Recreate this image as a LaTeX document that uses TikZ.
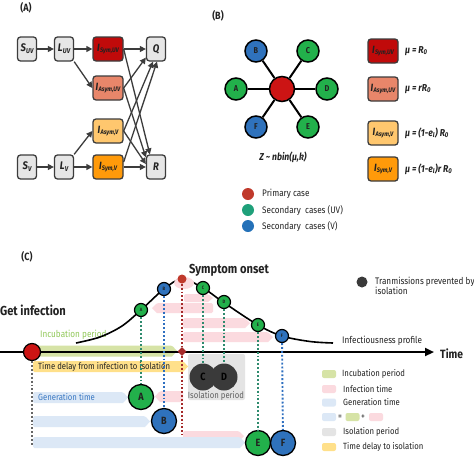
\documentclass[tikz,border=0pt]{standalone}
\usepackage{fontspec}
\setmainfont[FakeStretch=0.86]{Fira Sans}
\usetikzlibrary{arrows.meta,shapes.geometric}
\definecolor{boxgray}{HTML}{E6E6E6}
\definecolor{boxline}{HTML}{3C3C3C}
\definecolor{isuvc}{HTML}{C00A0A}
\definecolor{iauvc}{HTML}{E8866A}
\definecolor{iavc}{HTML}{FFC76E}
\definecolor{isvc}{HTML}{FF9A0A}
\definecolor{cgreen}{HTML}{22B04B}
\definecolor{cblue}{HTML}{2F72BC}
\definecolor{cred}{HTML}{CC1414}
\definecolor{lred}{HTML}{C0392B}
\definecolor{lteal}{HTML}{1FA07A}
\definecolor{lblue}{HTML}{2471B8}
\definecolor{incg}{HTML}{D6E3A6}
\definecolor{inctext}{HTML}{92C95A}
\definecolor{yel}{HTML}{FFE08A}
\definecolor{blu}{HTML}{DCE8F6}
\definecolor{pnk}{HTML}{FBDADF}
\definecolor{isog}{HTML}{E4E4E4}
\definecolor{gentext}{HTML}{3A78C2}
\definecolor{dgreen}{HTML}{2E8B6E}
\definecolor{dblue}{HTML}{2E6FC0}
\definecolor{dred}{HTML}{A52A2A}
\definecolor{darkc}{HTML}{3A3A3A}
\definecolor{txt}{HTML}{222222}
\newcommand\myfs[1]{\fontsize{#1}{#1}\selectfont}
\newcommand\arrbar[5]{\fill[#1,rounded corners=1.5pt] (#2,{#4-#5}) -- ({#3-5},{#4-#5}) [sharp corners] -- (#3,#4) -- ({#3-5},{#4+#5}) [rounded corners=1.5pt] -- (#2,{#4+#5}) -- cycle;}
\newcommand\arrbarl[5]{\fill[#1,rounded corners=1.5pt] (#3,{#4-#5}) -- ({#2+5},{#4-#5}) [sharp corners] -- (#2,#4) -- ({#2+5},{#4+#5}) [rounded corners=1.5pt] -- (#3,{#4+#5}) -- cycle;}
\newcommand\Isub[2]{\bfseries\itshape\myfs{10.5}#1\kern0.3pt\raisebox{-1.8pt}{\myfs{6.6}#2}}
\newcommand\Lsub[2]{\bfseries\itshape\myfs{11}#1\kern0.3pt\raisebox{-2pt}{\myfs{7}#2}}
\tikzset{
  gbox/.style={draw=boxline, fill=boxgray, rounded corners=3pt, line width=1.3pt,
    minimum width=19pt, minimum height=24pt, inner sep=0pt, text=txt},
  ibox/.style={gbox, minimum width=30pt},
  flow/.style={draw=boxline, line width=1.3pt, -{Triangle[length=6pt,width=6pt]}},
  bnode/.style={circle, draw=black, line width=1.5pt, minimum size=22pt, inner sep=0pt,
    font=\bfseries\myfs{8.5}, text=txt},
  ldot/.style={circle, minimum size=12pt, inner sep=0pt},
  ltext/.style={anchor=west, font=\myfs{9.5}, text=txt, inner sep=0pt},
  mutext/.style={anchor=west, font=\bfseries\itshape\myfs{10}, text=txt, inner sep=0pt},
  tcirc/.style={circle, draw=black, line width=1.2pt, minimum size=13pt, inner sep=0pt,
    font=\bfseries\myfs{4.8}, text=txt},
  bcirc/.style={circle, draw=black, line width=1.3pt, minimum size=25pt, inner sep=0pt,
    font=\bfseries\myfs{10.5}, text=txt},
  dcirc/.style={circle, fill=darkc, minimum size=27pt, inner sep=0pt,
    font=\bfseries\myfs{10.5}, text=black},
  dotl/.style={line width=1.9pt, dash pattern=on 1.9pt off 2pt},
  swatch/.style={rounded corners=2pt, minimum width=14pt, minimum height=8pt, inner sep=0pt},
}
\begin{document}
\begin{tikzpicture}[x=1pt,y=-1pt]
\useasboundingbox (0,0) rectangle (474,458);
\fill[white] (0,0) rectangle (474,458);

% ---------------- Panel A ----------------
\node[font=\bfseries\myfs{10.5}, text=txt] (labA) at (26,8) {(A)};
\node[gbox] (suv) at (27,49) {\Lsub{S}{UV}};
\node[gbox] (luv) at (64,49) {\Lsub{L}{UV}};
\node[ibox, fill=isuvc] (isuv) at (108,49) {\Isub{I}{Sym,UV}};
\node[gbox] (q) at (156,49) {\bfseries\itshape\myfs{11}Q};
\node[ibox, fill=iauvc] (iauv) at (108,88) {\Isub{I}{Asym,UV}};
\node[ibox, fill=iavc] (iav) at (108,131) {\Isub{I}{Asym,V}};
\node[ibox, fill=isvc] (isv) at (108,167) {\Isub{I}{Sym,V}};
\node[gbox] (sv) at (27,167) {\Lsub{S}{V}};
\node[gbox] (lv) at (64,167) {\Lsub{L}{V}};
\node[gbox] (r) at (156,167) {\bfseries\itshape\myfs{11}R};

\draw[flow] (suv) -- (luv);
\draw[flow] (luv) -- (isuv);
\draw[flow] (luv.south east) -- (iauv.west);
\draw[flow] (sv) -- (lv);
\draw[flow] (lv) -- (isv);
\draw[flow] (lv.north east) -- (iav.west);
\draw[flow] (isuv.east) -- (q.west);
\draw[flow] (isuv.east) -- ([xshift=4pt]r.north west);
\draw[flow] (iauv.east) -- ([yshift=4pt]q.south west);
\draw[flow] (iauv.east) -- ([yshift=-3pt]r.north west);
\draw[flow] (iav.east) -- ([xshift=-3pt]q.south);
\draw[flow] (iav.east) -- ([yshift=3pt]r.west);
\draw[flow] ([yshift=5pt]isv.east) -- ([xshift=1pt]q.south);
\draw[flow] (isv.east) -- (r.west);

% ---------------- Panel B ----------------
\node[font=\bfseries\myfs{10.5}, text=txt] (labB) at (218,16) {(B)};
\node[bnode, fill=cred, minimum size=25pt] (p) at (282,89) {};
\node[bnode, fill=cblue] (b1) at (256,51) {B};
\node[bnode, fill=cgreen] (c1) at (308,51) {C};
\node[bnode, fill=cgreen] (a1) at (236,89) {A};
\node[bnode, fill=cgreen] (d1) at (327,89) {D};
\node[bnode, fill=cblue] (f1) at (256,127) {F};
\node[bnode, fill=cgreen] (e1) at (308,127) {E};
\foreach \n in {a1,b1,c1,d1,e1,f1} \draw[line width=2pt] (p) -- (\n);
\node[font=\bfseries\itshape\myfs{10}, text=txt] (zlab) at (283,157) {Z \textasciitilde{} nbin(μ,k)};

\node[ldot, fill=lred] (ld1) at (248,194) {};
\node[ltext] (lt1) at (262,194) {Primary case};
\node[ldot, fill=lteal] (ld2) at (248,210) {};
\node[ltext] (lt2) at (262,210) {Secondary\ \ cases (UV)};
\node[ldot, fill=lblue] (ld3) at (248,226) {};
\node[ltext] (lt3) at (262,226) {Secondary\ \ cases (V)};

\node[ibox, fill=isuvc] (k1) at (383,51) {\Isub{I}{Sym,UV}};
\node[mutext] (m1) at (405,51) {μ = R\textsubscript{0}};
\node[ibox, fill=iauvc] (k2) at (383,89) {\Isub{I}{Asym,UV}};
\node[mutext] (m2) at (405,89) {μ = rR\textsubscript{0}};
\node[ibox, fill=iavc] (k3) at (383,133) {\Isub{I}{Asym,V}};
\node[mutext] (m3) at (405,133) {μ = (1-e\textsubscript{I}) R\textsubscript{0}};
\node[ibox, fill=isvc] (k4) at (383,169) {\Isub{I}{Sym,V}};
\node[mutext] (m4) at (405,169) {μ = (1-e\textsubscript{I})r R\textsubscript{0}};

% ---------------- Panel C ----------------
\node[font=\bfseries\myfs{10.5}, text=txt] (labC) at (27,257) {(C)};

% background bars
\arrbar{pnk}{184}{213}{298}{4}
\arrbarl{pnk}{152}{213}{308}{5}
\arrbar{pnk}{183}{250}{323}{5}
\arrbar{pnk}{183}{273}{337}{5}
\fill[isog, rounded corners=2pt] (188,354) rectangle (245,400);
\arrbar{incg}{33}{177}{351}{5.5}
\arrbar{yel}{33}{188}{366.5}{5.5}
\arrbar{blu}{33}{128}{397.5}{5.5}
\arrbarl{pnk}{155}{183}{396.5}{5.5}
\arrbar{blu}{33}{150}{421.5}{5.5}
\arrbar{pnk}{183}{244}{436}{5}
\arrbar{blu}{33}{245}{442.5}{5.5}

% texts on bars
\node[font=\myfs{9.5}, text=inctext, anchor=west, inner sep=0pt] (tinc) at (40,335) {Incubation period};
\node[font=\myfs{9}, text=txt, anchor=west, inner sep=0pt] (tdel) at (38,366.5) {Time delay from infection to isolation};
\node[font=\myfs{9}, text=gentext, anchor=west, inner sep=0pt] (tgen) at (38,397.5) {Generation time};
\node[font=\myfs{9}, text=darkc!80, inner sep=0pt] (tiso) at (216,396) {Isolation period};

% axis
\coordinate (axs) at (0,352);
\coordinate (axe) at (434,352);
\draw[line width=2.2pt, -{Triangle[length=9pt,width=8pt]}] (axs) -- (axe);
\node[font=\bfseries\myfs{12}, text=txt, anchor=west, inner sep=0pt] (ttime) at (440,354) {Time};

% infectiousness curve
\draw[line width=1.6pt] plot[smooth, tension=0.55] coordinates
  {(76,343) (100,337) (122,326) (141,310) (164,289) (182,279) (203,288) (223,302) (258,325) (282,336) (310,341.5) (333,343)};
\node[font=\myfs{9.5}, text=txt, anchor=west, inner sep=0pt] (tprof) at (342,341) {Infectiousness profile};

% top circles
\fill[pnk] (184,283) ellipse (10 and 6);
\node[circle, fill=lred, minimum size=9pt, inner sep=0pt] (rdot) at (182,279) {};
\node[tcirc, fill=cgreen] (ta) at (141,310) {A};
\node[tcirc, fill=cblue] (tb) at (164,289) {B};
\node[tcirc, fill=cgreen] (tc) at (203,288) {C};
\node[tcirc, fill=cgreen] (td) at (224,302) {D};
\node[tcirc, fill=cgreen] (te) at (258,325) {E};
\node[tcirc, fill=cblue] (tf) at (282,336) {F};

% bottom circles
\node[bcirc, fill=cgreen] (ba) at (141,397) {A};
\node[bcirc, fill=cblue] (bb) at (164,421) {B};
\node[dcirc] (bd) at (224,377) {D};
\node[dcirc] (bc) at (203,377) {C};
\node[bcirc, fill=cgreen] (be) at (258,443) {E};
\node[bcirc, fill=cblue] (bf) at (283,443) {F};

% big red start, diamond
\node[circle, fill=cred, draw=black, line width=1.2pt, minimum size=17pt, inner sep=0pt] (start) at (32,352) {};
\node[diamond, fill=dred, minimum size=9pt, inner sep=0pt] (onset) at (182,351.5) {};
\coordinate (rend) at (182,435);
\coordinate (gend) at (32,446);

% dotted verticals
\draw[dotl, dgreen] (ta) -- (ba);
\draw[dotl, dblue] (tb) -- (bb);
\draw[dotl, dred] (rdot) -- (onset);
\draw[dotl, dred] (onset) -- (rend);
\draw[dotl, dgreen] (tc) -- (bc);
\draw[dotl, dgreen] (td) -- (bd);
\draw[dotl, dgreen] (te) -- (be);
\draw[dotl, dblue] (tf) -- (bf);
\draw[dotl, gray!80!black] (start) -- (gend);

\node[font=\bfseries\myfs{13}, text=txt] (tget) at (33,310) {Get infection};
\node[font=\bfseries\myfs{13}, text=txt] (tsym) at (229,270) {Symptom onset};

% prevented legend
\node[circle, fill=darkc, minimum size=11pt, inner sep=0pt] (pdot) at (362,282) {};
\node[font=\myfs{9.5}, text=txt, anchor=north west, align=left, inner sep=0pt] (ptext) at (375,277) {Tranmissions prevented by\\isolation};

% legend C
\node[swatch, fill=incg] (s1) at (329,374) {};
\node[ltext, font=\myfs{9}] (st1) at (342,374) {Incubation period};
\node[swatch, fill=pnk] (s2) at (329,389) {};
\node[ltext, font=\myfs{9}] (st2) at (343,389) {Infection time};
\node[swatch, fill=blu] (s3) at (329,402.5) {};
\node[ltext, font=\myfs{9}] (st3) at (343,402.5) {Generation time};
\node[swatch, fill=blu] (s4) at (329,417) {};
\node[font=\myfs{9}, text=txt, inner sep=0pt] (eq) at (340,417) {=};
\node[swatch, fill=incg] (s5) at (352.5,417) {};
\node[font=\myfs{9}, text=txt, inner sep=0pt] (pl) at (363,417) {+};
\node[swatch, fill=pnk] (s6) at (376,417) {};
\node[swatch, fill=isog] (s7) at (329,432) {};
\node[ltext, font=\myfs{9}] (st7) at (343,432) {Isolation period};
\node[swatch, fill=yel] (s8) at (329,447) {};
\node[ltext, font=\myfs{9}] (st8) at (343,447) {Time delay to isolation};
\end{tikzpicture}
\end{document}
